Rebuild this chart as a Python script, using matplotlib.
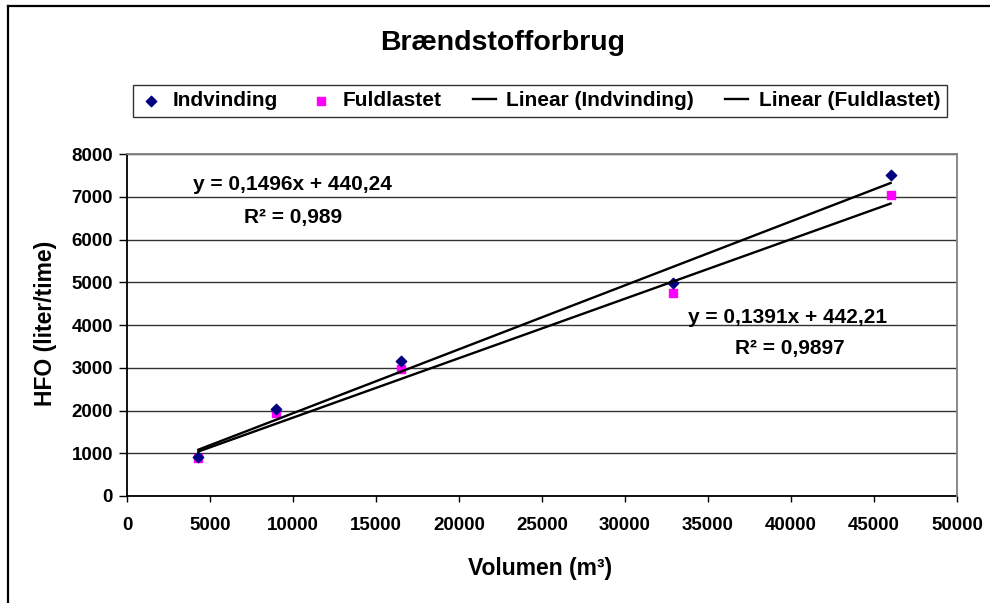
import numpy as np
import matplotlib.pyplot as plt
from matplotlib.lines import Line2D

plt.rcParams['font.family'] = ['Liberation Sans', 'DejaVu Sans']
plt.rcParams['font.weight'] = 'bold'

# data
volumen = [4300, 9000, 16500, 32900, 46000]
indvinding = [910, 2030, 3150, 4990, 7520]
fuldlastet = [900, 1950, 2960, 4750, 7030]

# trendline coefficients as printed on the chart
trend_ind = (0.1496, 440.24)
trend_ful = (0.1391, 442.21)
eq_ind = ["y = 0,1496x + 440,24", "R² = 0,989"]
eq_ful = ["y = 0,1391x + 442,21", "R² = 0,9897"]

xticks = list(range(0, 50001, 5000))
yticks = list(range(0, 8001, 1000))

W, H = 990, 603
fig = plt.figure(figsize=(W / 100, H / 100), dpi=100)
ax = fig.add_axes([127 / W, 1 - 496 / H, 830 / W, 342 / H])

# outer chart frame (cut off at right/bottom)
fig.add_artist(Line2D([8 / W, 1.0], [1 - 6 / H, 1 - 6 / H], color='black', lw=1.6))
fig.add_artist(Line2D([8 / W, 8 / W], [0, 1 - 6 / H], color='black', lw=1.6))

xs = np.array([min(volumen), max(volumen)])
ax.scatter(volumen, indvinding, marker='D', s=28, color='#000080', zorder=4, label='Indvinding')
ax.scatter(volumen, fuldlastet, marker='s', s=38, color='#FF00FF', zorder=3, label='Fuldlastet')
ax.plot(xs, trend_ind[0] * xs + trend_ind[1], color='black', lw=1.7, zorder=5, label='Linear (Indvinding)')
ax.plot(xs, trend_ful[0] * xs + trend_ful[1], color='black', lw=1.7, zorder=5, label='Linear (Fuldlastet)')

ax.set_xlim(0, 50000)
ax.set_ylim(0, 8000)
ax.set_xticks(xticks)
ax.set_yticks(yticks)
ax.tick_params(axis='x', length=4, width=1, pad=11, labelsize=13.5, direction='out')
ax.tick_params(axis='y', length=6, width=1, pad=4, labelsize=13.5, direction='out')
for lbl in ax.get_xticklabels() + ax.get_yticklabels():
    lbl.set_fontweight('bold')

ax.yaxis.grid(True, color='#333333', lw=1.0)
ax.set_axisbelow(True)
for s in ['left', 'bottom']:
    ax.spines[s].set_color('black')
    ax.spines[s].set_linewidth(1.3)
for s in ['top', 'right']:
    ax.spines[s].set_color('#808080')
    ax.spines[s].set_linewidth(1.3)
    ax.spines[s].set_zorder(3)

# trendline equations
ax.text(9950, 7275, eq_ind[0], ha='center', va='center', fontsize=15, fontweight='bold')
ax.text(10000, 6503, eq_ind[1], ha='center', va='center', fontsize=15, fontweight='bold')
ax.text(39820, 4187, eq_ful[0], ha='center', va='center', fontsize=15, fontweight='bold')
ax.text(39940, 3439, eq_ful[1], ha='center', va='center', fontsize=15, fontweight='bold')

fig.text(503 / W, 1 - 43 / H, 'Brændstofforbrug', ha='center', va='center', fontsize=20.5, fontweight='bold')
fig.text(46 / W, 1 - 323 / H, 'HFO (liter/time)', ha='center', va='center', rotation=90,
         fontsize=16.5, fontweight='bold')
fig.text(540 / W, 1 - 568 / H, 'Volumen (m³)', ha='center', va='center', fontsize=16.5, fontweight='bold')

leg = fig.legend(loc='center', bbox_to_anchor=(540 / W, 1 - 101 / H), ncol=4, fontsize=15,
                 frameon=True, fancybox=False, handlelength=1.1, handletextpad=0.5,
                 columnspacing=1.5, borderpad=0.3, scatterpoints=1)
leg.get_frame().set_edgecolor('black')
leg.get_frame().set_linewidth(1.0)
for t in leg.get_texts():
    t.set_fontweight('bold')

fig.savefig('out.png', dpi=100)
